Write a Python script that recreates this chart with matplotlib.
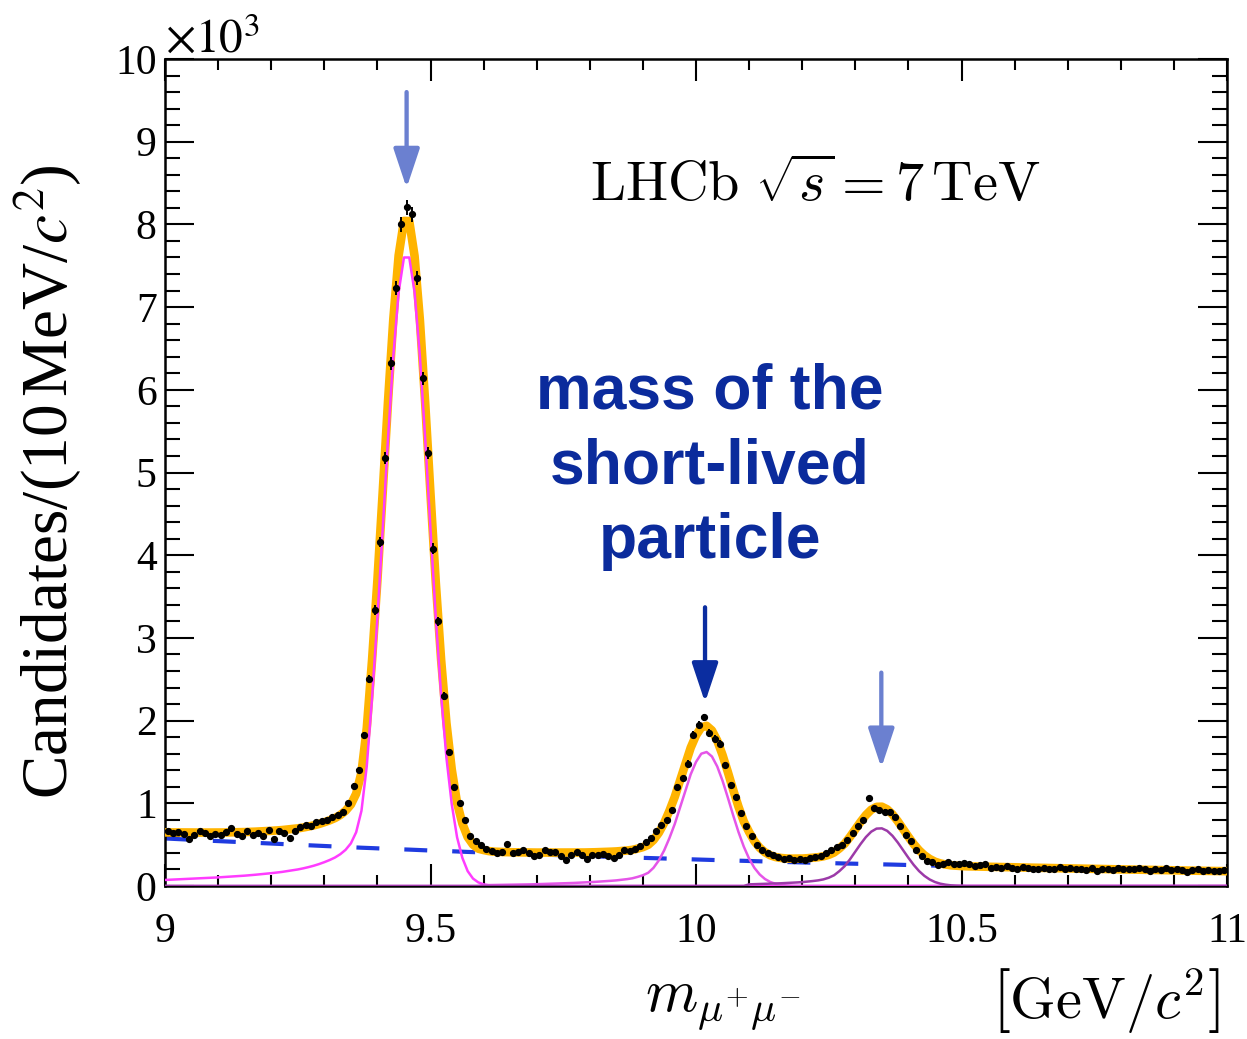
"""
LHCb Upsilon(1S,2S,3S) -> mu+ mu- mass spectrum with the fit components.
"""
import matplotlib
matplotlib.use("Agg")
import matplotlib.pyplot as plt
import numpy as np
from matplotlib.patches import FancyArrowPatch
from matplotlib.ticker import MultipleLocator

# ---- data (units: 10^3 candidates per 10 MeV bin) ----
BIN_LO, BIN_W = 9.0, 0.01
counts = [
    0.66, 0.64, 0.65, 0.63, 0.57, 0.62, 0.66, 0.64, 0.61, 0.63,
    0.62, 0.65, 0.70, 0.63, 0.60, 0.66, 0.62, 0.64, 0.61, 0.68,
    0.57, 0.66, 0.64, 0.58, 0.66, 0.71, 0.74, 0.72, 0.77, 0.78,
    0.80, 0.84, 0.86, 0.90, 1.00, 1.21, 1.40, 1.82, 2.50, 3.34,
    4.16, 5.17, 6.32, 7.23, 8.00, 8.21, 8.12, 7.35, 6.14, 5.23,
    4.08, 3.20, 2.30, 1.62, 1.20, 1.00, 0.80, 0.60, 0.54, 0.50,
    0.45, 0.42, 0.40, 0.41, 0.51, 0.40, 0.41, 0.43, 0.40, 0.36,
    0.38, 0.43, 0.41, 0.41, 0.36, 0.32, 0.38, 0.41, 0.37, 0.33,
    0.37, 0.37, 0.39, 0.36, 0.34, 0.37, 0.43, 0.42, 0.45, 0.48,
    0.53, 0.58, 0.66, 0.74, 0.80, 0.92, 1.20, 1.30, 1.48, 1.83,
    1.95, 2.04, 1.85, 1.78, 1.72, 1.46, 1.22, 1.08, 0.88, 0.72,
    0.60, 0.50, 0.44, 0.40, 0.37, 0.35, 0.33, 0.34, 0.31, 0.33,
    0.32, 0.34, 0.35, 0.36, 0.40, 0.44, 0.47, 0.50, 0.56, 0.64,
    0.72, 0.80, 1.06, 0.94, 0.92, 0.90, 0.90, 0.84, 0.72, 0.62,
    0.54, 0.44, 0.36, 0.30, 0.29, 0.25, 0.27, 0.29, 0.27, 0.27,
    0.28, 0.26, 0.24, 0.25, 0.26, 0.22, 0.23, 0.22, 0.24, 0.22,
    0.21, 0.23, 0.22, 0.20, 0.21, 0.22, 0.21, 0.20, 0.23, 0.21,
    0.22, 0.20, 0.21, 0.19, 0.22, 0.18, 0.20, 0.21, 0.19, 0.22,
    0.20, 0.21, 0.20, 0.22, 0.21, 0.18, 0.20, 0.19, 0.22, 0.19,
    0.20, 0.19, 0.17, 0.19, 0.20, 0.18, 0.19, 0.18, 0.18, 0.19,
]

# ---- fit components, sampled every 10 MeV from 9.00 to 11.00 ----
background = [
    0.575, 0.572, 0.568, 0.565, 0.562, 0.559, 0.555, 0.552, 0.549, 0.546,
    0.542, 0.539, 0.536, 0.533, 0.530, 0.527, 0.524, 0.521, 0.518, 0.515,
    0.512, 0.509, 0.506, 0.503, 0.500, 0.497, 0.494, 0.491, 0.488, 0.485,
    0.483, 0.480, 0.477, 0.474, 0.472, 0.469, 0.466, 0.463, 0.461, 0.458,
    0.455, 0.453, 0.450, 0.447, 0.445, 0.442, 0.440, 0.437, 0.435, 0.432,
    0.429, 0.427, 0.424, 0.422, 0.420, 0.417, 0.415, 0.412, 0.410, 0.407,
    0.405, 0.403, 0.400, 0.398, 0.396, 0.393, 0.391, 0.389, 0.387, 0.384,
    0.382, 0.380, 0.378, 0.375, 0.373, 0.371, 0.369, 0.367, 0.365, 0.362,
    0.360, 0.358, 0.356, 0.354, 0.352, 0.350, 0.348, 0.346, 0.344, 0.342,
    0.340, 0.338, 0.336, 0.334, 0.332, 0.330, 0.328, 0.326, 0.324, 0.322,
    0.321, 0.319, 0.317, 0.315, 0.313, 0.311, 0.310, 0.308, 0.306, 0.304,
    0.302, 0.300, 0.299, 0.297, 0.295, 0.294, 0.292, 0.290, 0.288, 0.287,
    0.285, 0.283, 0.282, 0.280, 0.279, 0.277, 0.275, 0.274, 0.272, 0.271,
    0.269, 0.268, 0.266, 0.265, 0.263, 0.262, 0.260, 0.259, 0.257, 0.256,
    0.254, 0.252, 0.251, 0.249, 0.248, 0.246, 0.245, 0.244, 0.242, 0.241,
    0.239, 0.238, 0.237, 0.235, 0.234, 0.232, 0.231, 0.230, 0.228, 0.227,
    0.226, 0.224, 0.223, 0.222, 0.221, 0.219, 0.218, 0.217, 0.215, 0.214,
    0.213, 0.212, 0.211, 0.209, 0.208, 0.207, 0.206, 0.205, 0.203, 0.202,
    0.201, 0.200, 0.199, 0.197, 0.196, 0.195, 0.194, 0.193, 0.192, 0.191,
    0.189, 0.188, 0.187, 0.186, 0.185, 0.184, 0.183, 0.182, 0.181, 0.180,
    0.179,
]

# signal shapes: (first mass, values every 10 MeV), zero outside
ups1s_start = 9.00
ups1s = [
    0.073, 0.076, 0.079, 0.082, 0.085, 0.088, 0.091, 0.094, 0.097, 0.100,
    0.104, 0.108, 0.112, 0.116, 0.120, 0.125, 0.130, 0.136, 0.142, 0.148,
    0.155, 0.162, 0.170, 0.180, 0.190, 0.200, 0.213, 0.228, 0.245, 0.265,
    0.288, 0.314, 0.344, 0.384, 0.437, 0.515, 0.650, 0.910, 1.450, 2.280,
    3.240, 4.310, 5.410, 6.410, 7.180, 7.600, 7.600, 7.180, 6.410, 5.410,
    4.310, 3.240, 2.310, 1.550, 0.990, 0.590, 0.340, 0.180, 0.090, 0.044,
    0.020, 0.008, 0.003, 0.001, 0.0, 0.0,
]
ups2s_start = 9.60
ups2s = [
    0.010, 0.011, 0.012, 0.013, 0.014, 0.015, 0.016, 0.017, 0.018, 0.020,
    0.022, 0.024, 0.026, 0.028, 0.030, 0.032, 0.034, 0.037, 0.040, 0.043,
    0.046, 0.050, 0.054, 0.058, 0.063, 0.068, 0.075, 0.083, 0.093, 0.110,
    0.130, 0.160, 0.220, 0.310, 0.430, 0.580, 0.750, 0.950, 1.150, 1.350,
    1.500, 1.600, 1.620, 1.566, 1.445, 1.272, 1.068, 0.855, 0.653, 0.476,
    0.331, 0.219, 0.139, 0.084, 0.048, 0.026, 0.014, 0.007, 0.003, 0.001,
    0.0,
]
ups3s_start = 10.10
ups3s = [
    0.020, 0.022, 0.024, 0.026, 0.028, 0.030, 0.033, 0.036, 0.040, 0.043,
    0.047, 0.053, 0.060, 0.068, 0.080, 0.100, 0.130, 0.180, 0.240, 0.323,
    0.415, 0.508, 0.592, 0.657, 0.694, 0.697, 0.667, 0.607, 0.526, 0.434,
    0.341, 0.255, 0.181, 0.123, 0.079, 0.048, 0.028, 0.016, 0.008, 0.004,
    0.002,
]

peak_masses = [9.455, 10.017, 10.349]


def on_grid(start, vals, n):
    full = np.zeros(n)
    i0 = int(round((start - 9.0) / 0.01))
    full[i0:i0 + len(vals)] = vals
    return full


counts = np.array(counts)
centres = BIN_LO + BIN_W * (np.arange(len(counts)) + 0.5)
errs = np.sqrt(counts * 1000.0) / 1000.0

grid = 9.0 + 0.01 * np.arange(len(background))
bkg = np.array(background)
s1 = on_grid(ups1s_start, ups1s, len(grid))
s2 = on_grid(ups2s_start, ups2s, len(grid))
s3 = on_grid(ups3s_start, ups3s, len(grid))
total = bkg + s1 + s2 + s3

plt.rcParams["font.family"] = ["Liberation Serif", "DejaVu Serif"]
plt.rcParams["mathtext.fontset"] = "stix"

fig = plt.figure(figsize=(12.47, 10.39), dpi=100)
ax = fig.add_axes([165 / 1247, 153 / 1039, 1062 / 1247, 827 / 1039])

ax.plot(grid, bkg, color="#1f3be0", lw=3, ls=(0, (5.5, 6)), zorder=2)
ax.plot(grid, total, color="#ffb400", lw=6.2, zorder=3, solid_capstyle="butt")
ax.plot(grid, s1, color="#ff3cff", lw=1.8, zorder=4)
ax.plot(grid, s2, color="#e555e8", lw=1.8, zorder=4)
ax.plot(grid, s3, color="#9c3aa8", lw=1.8, zorder=4)
ax.errorbar(centres, counts, yerr=errs, xerr=BIN_W / 2, fmt="o", ms=4.2,
            color="black", elinewidth=1.4, capsize=0, zorder=5)

ax.set_xlim(9, 11)
ax.set_ylim(0, 10)
ax.xaxis.set_major_locator(MultipleLocator(0.5))
ax.xaxis.set_minor_locator(MultipleLocator(0.1))
ax.yaxis.set_major_locator(MultipleLocator(1))
ax.yaxis.set_minor_locator(MultipleLocator(0.2))
ax.xaxis.set_major_formatter(lambda v, pos: f"{v:g}")
ax.yaxis.set_major_formatter(lambda v, pos: f"{v:g}")
ax.tick_params(which="both", direction="in", top=True, right=True, width=1.5,
               labelsize=30)
ax.tick_params(axis="x", which="major", length=16, pad=19)
ax.tick_params(axis="x", which="minor", length=8)
ax.tick_params(axis="y", which="major", length=21, pad=6)
ax.tick_params(axis="y", which="minor", length=11)
for sp in ax.spines.values():
    sp.set_linewidth(1.8)

ax.text(0.0, 1.008, r"$\times10^{3}$", transform=ax.transAxes, ha="left",
        va="baseline", fontsize=34)

# arrows over the three peaks
arrow_tops = [9.6, 3.37, 2.58]
arrow_tips = [8.44, 2.22, 1.43]
arrow_cols = ["#6b80d0", "#0b2da0", "#6b80d0"]
for m, top, tip, col in zip(peak_masses, arrow_tops, arrow_tips, arrow_cols):
    ax.add_patch(FancyArrowPatch((m, top), (m, tip),
                                 arrowstyle="-|>,head_length=1.2,head_width=0.4",
                                 mutation_scale=20, color=col, lw=3.1,
                                 shrinkA=0, shrinkB=0, zorder=6))

ax.text(9.80, 8.47, r"$\mathrm{LHCb}\ \sqrt{s} = 7\,\mathrm{TeV}$",
        math_fontfamily="cm", fontsize=40.5, va="center", ha="left")
ax.text(10.026, 5.07, "mass of the\nshort-lived\nparticle", ha="center",
        va="center", fontsize=45, fontweight="bold", color="#0b2b9c",
        family=["Liberation Sans", "DejaVu Sans"], linespacing=1.34)

fig.text(0.0385, 0.536, r"Candidates/(10$\,$MeV/$c^{2}$)", rotation=90,
         ha="center", va="center", fontsize=47)
fig.text(645 / 1247, 1 - 1012 / 1039, r"$m_{\mu^{+}\mu^{-}}$",
         math_fontfamily="cm", ha="left", va="baseline", fontsize=43)
fig.text(1220 / 1247, 1 - 1018 / 1039, r"$\left[\mathrm{GeV}/c^{2}\right]$",
         math_fontfamily="cm", ha="right", va="baseline", fontsize=42)

fig.savefig("out.png", dpi=100)
